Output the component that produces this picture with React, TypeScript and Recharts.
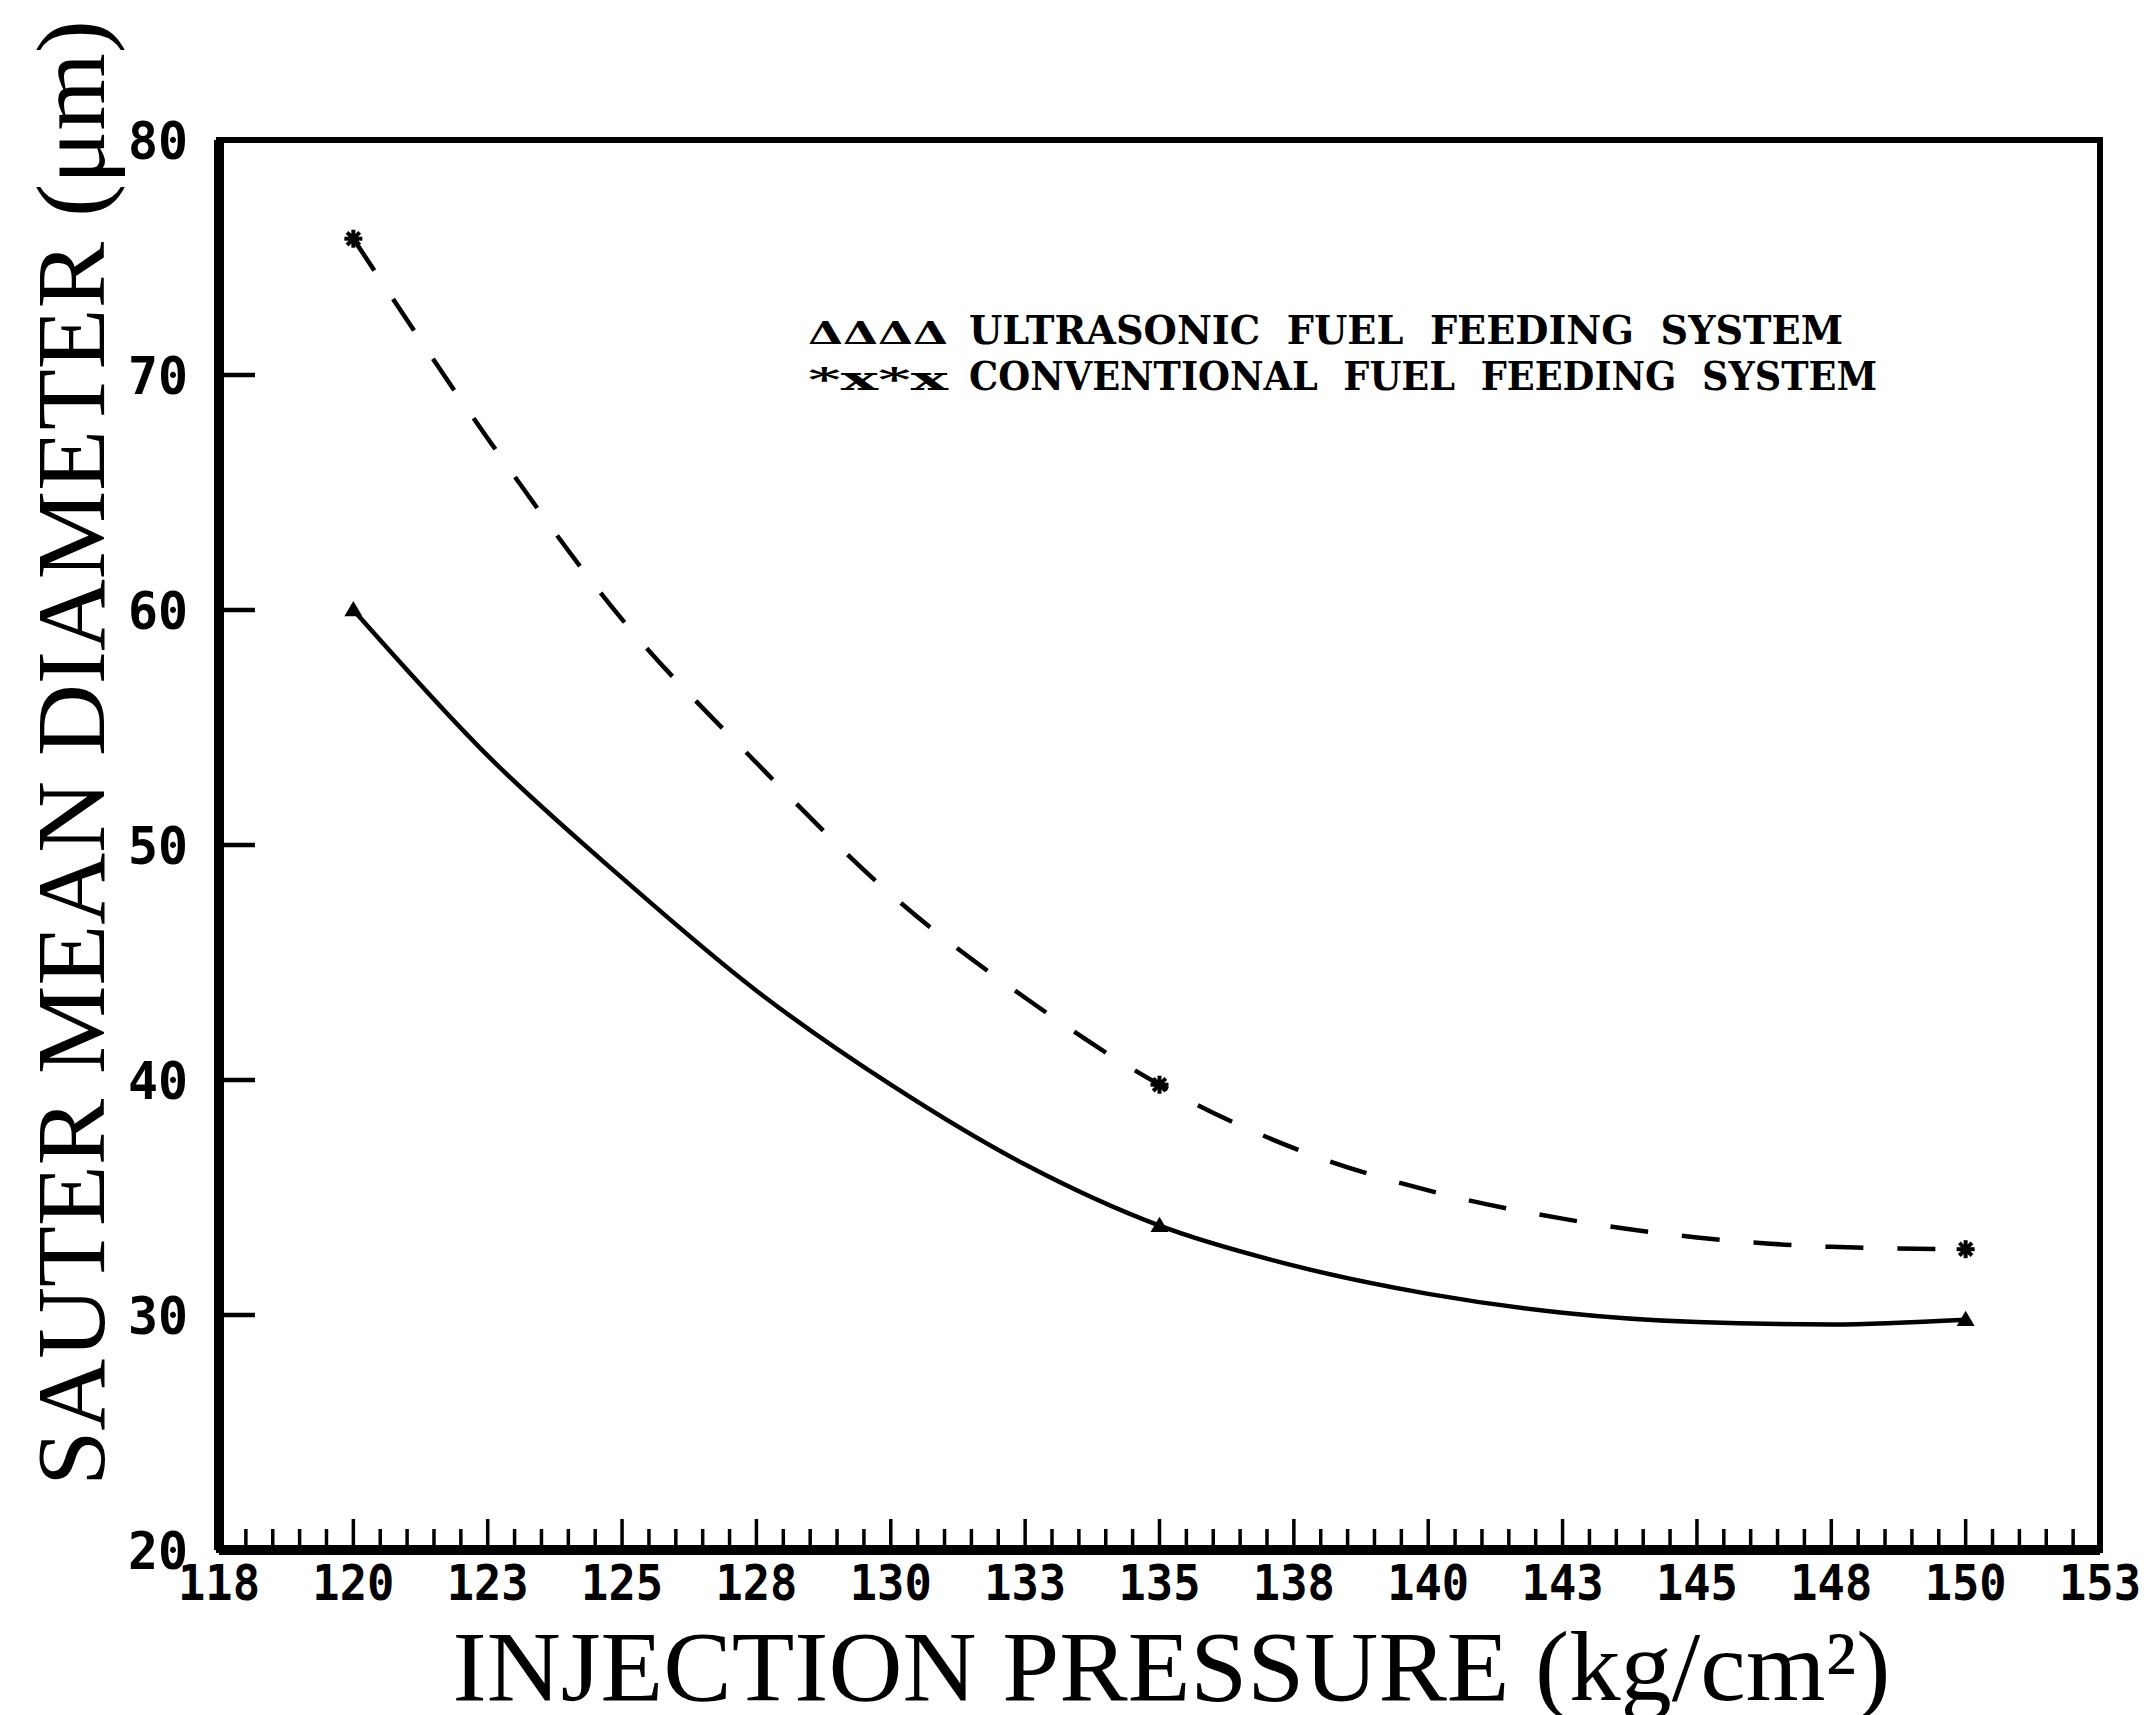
import React from 'react';
import { LineChart, Line, XAxis, YAxis, ReferenceArea, Legend } from 'recharts';

// Injection pressure (kg/cm^2) at which the curves were read
const pressure = [120, 122.5, 125, 127.5, 130, 132.5, 135, 137.5, 140, 142.5, 145, 147.5, 150];
// Sauter mean diameter (micrometre)
const ultrasonic = [60.0, 53.8, 48.6, 43.8, 39.8, 36.4, 33.8, 32.1, 30.9, 30.1, 29.7, 29.6, 29.8];
const conventional = [75.8, 67.3, 59.6, 53.5, 47.9, 43.5, 39.8, 37.1, 35.3, 34.1, 33.3, 32.9, 32.8];
// pressures where the original plot shows data markers
const markerPressures = [120, 135, 150];

const xMajorTicks = [117.5, 120, 122.5, 125, 127.5, 130, 132.5, 135, 137.5, 140, 142.5, 145, 147.5, 150, 152.5];
const xTickLabels = ['118', '120', '123', '125', '128', '130', '133', '135', '138', '140', '143', '145', '148', '150', '153'];
const yTicks = [20, 30, 40, 50, 60, 70, 80];
const yTickLabels = ['20', '30', '40', '50', '60', '70', '80'];

const seriesNames = ['ULTRASONIC FUEL FEEDING SYSTEM', 'CONVENTIONAL FUEL FEEDING SYSTEM'];
const seriesSymbols = ['\u0394\u0394\u0394\u0394', '*x*x'];
const xTitle = 'INJECTION PRESSURE (kg/cm\u00B2)';
const yTitle = 'SAUTER MEAN DIAMETER (\u03BCm)';

const data = pressure.map((p, i) => ({ p, ultra: ultrasonic[i], conv: conventional[i] }));

// all x ticks: majors plus minor ticks every 0.5
const xAllTicks: number[] = [];
for (let v = 117.5; v <= 152.5 + 1e-9; v += 0.5) xAllTicks.push(Math.round(v * 10) / 10);

const TICK_FONT = "'DejaVu Sans Mono', monospace";

const XTick = (props: any) => {
  const { x, y, payload } = props;
  const v = payload.value;
  const idx = xMajorTicks.indexOf(v);
  const isMajor = idx >= 0;
  const len = isMajor ? 31 : 21;
  const lab = isMajor ? xTickLabels[idx] : '';
  return (
    <g>
      <line x1={x} x2={x} y1={y} y2={y - len} stroke="#000" strokeWidth={3.5} />
      {isMajor && (
        <text
          x={x}
          y={y + 50}
          textAnchor="middle"
          fontFamily={TICK_FONT}
          fontWeight="bold"
          fontSize={50}
          textLength={82}
          lengthAdjust="spacingAndGlyphs"
          fill="#000"
        >
          {lab}
        </text>
      )}
    </g>
  );
};

const YTick = (props: any) => {
  const { x, y, payload } = props;
  const v = payload.value;
  const idx = yTicks.indexOf(v);
  const lab = yTickLabels[idx];
  const inner = v > 20 && v < 80;
  return (
    <g>
      {inner && <line x1={x} x2={x + 36} y1={y} y2={y} stroke="#000" strokeWidth={4.5} />}
      <text
        x={x - 31}
        y={y + 19}
        textAnchor="end"
        fontFamily={TICK_FONT}
        fontWeight="bold"
        fontSize={52}
        textLength={60}
        lengthAdjust="spacingAndGlyphs"
        fill="#000"
      >
        {lab}
      </text>
    </g>
  );
};

const makeDot = (kind: 'tri' | 'star') => (props: any) => {
  const { cx, cy, payload, index } = props;
  if (!markerPressures.includes(payload.p)) return <g key={`d${kind}${index}`} />;
  if (kind === 'tri') {
    const s = 9;
    return (
      <path
        key={`d${kind}${index}`}
        d={`M${cx},${cy - s} L${cx + s},${cy + s * 0.7} L${cx - s},${cy + s * 0.7} Z`}
        fill="#000"
      />
    );
  }
  const s = 9;
  return (
    <g key={`d${kind}${index}`} stroke="#000" strokeWidth={4}>
      <line x1={cx - s} y1={cy} x2={cx + s} y2={cy} />
      <line x1={cx} y1={cy - s} x2={cx} y2={cy + s} />
      <line x1={cx - s * 0.7} y1={cy - s * 0.7} x2={cx + s * 0.7} y2={cy + s * 0.7} />
      <line x1={cx - s * 0.7} y1={cy + s * 0.7} x2={cx + s * 0.7} y2={cy - s * 0.7} />
    </g>
  );
};

const LegendContent = () => (
  <svg width={1340} height={110} style={{ display: 'block' }}>
    {seriesNames.map((name, i) => (
      <g key={name}>
        <text
          x={8}
          y={44 + i * 46}
          fontFamily="'DejaVu Serif', serif"
          fontWeight="bold"
          fontSize={32}
          textLength={140}
          lengthAdjust="spacingAndGlyphs"
          fill="#000"
        >
          {seriesSymbols[i]}
        </text>
        <text
          x={169}
          y={44 + i * 46}
          fontFamily="'DejaVu Serif', serif"
          fontWeight="bold"
          fontSize={39}
          textLength={i === 0 ? 874 : 908}
          lengthAdjust="spacingAndGlyphs"
          style={{ whiteSpace: 'pre' }}
          fill="#000"
        >
          {name.replace(/ /g, '  ')}
        </text>
      </g>
    ))}
  </svg>
);

const XTitle = (props: any) => {
  const vb = props.viewBox || { x: 219, y: 1550, width: 1881 };
  return (
    <text
      x={vb.x + vb.width / 2 + 12}
      y={vb.y + 150}
      textAnchor="middle"
      fontFamily="'Liberation Serif', serif"
      fontSize={100}
      textLength={1438}
      lengthAdjust="spacingAndGlyphs"
      fill="#000"
    >
      {xTitle}
    </text>
  );
};

const YTitle = (props: any) => {
  const vb = props.viewBox || { x: 218, y: 140, width: 1, height: 1410 };
  const bx = vb.x + vb.width - 115;
  const by = vb.y + vb.height - 64;
  return (
    <text
      x={bx}
      y={by}
      transform={`rotate(-90 ${bx} ${by})`}
      textAnchor="start"
      fontFamily="'Liberation Serif', serif"
      fontSize={98}
      textLength={1466}
      lengthAdjust="spacingAndGlyphs"
      fill="#000"
    >
      {yTitle}
    </text>
  );
};

export default function App() {
  return (
    <div style={{ position: 'absolute', left: 0, top: 0, width: 2148, height: 1715, background: '#fff', overflow: 'hidden' }}>
      <LineChart
        width={2148}
        height={1715}
        data={data}
        margin={{ top: 140, right: 48, bottom: 164, left: 218 }}
      >
        <XAxis
          dataKey="p"
          type="number"
          domain={[117.5, 152.5]}
          ticks={xAllTicks}
          interval={0}
          tickSize={0}
          tickMargin={0}
          height={1}
          tickLine={false}
          tick={<XTick />}
          axisLine={{ stroke: '#000', strokeWidth: 10 }}
          label={{ content: <XTitle /> }}
        />
        <YAxis
          type="number"
          domain={[20, 80]}
          ticks={yTicks}
          interval={0}
          tickSize={0}
          tickMargin={0}
          width={1}
          tickLine={false}
          tick={<YTick />}
          axisLine={{ stroke: '#000', strokeWidth: 10 }}
          label={{ content: <YTitle /> }}
        />
        <ReferenceArea x1={117.5} x2={152.5} y1={20} y2={80} fill="none" stroke="#000" strokeWidth={6} />
        <Legend
          layout="horizontal"
          verticalAlign="middle"
          align="center"
          content={<LegendContent />}
          wrapperStyle={{ position: 'absolute', left: 800, top: 300, width: 1340, height: 110 }}
        />
        <Line
          type="monotone"
          dataKey="ultra"
          name={seriesNames[0]}
          stroke="#000"
          strokeWidth={4.5}
          dot={makeDot('tri')}
          activeDot={false}
          isAnimationActive={false}
        />
        <Line
          type="monotone"
          dataKey="conv"
          name={seriesNames[1]}
          stroke="#000"
          strokeWidth={4.5}
          strokeDasharray="38 34"
          dot={makeDot('star')}
          activeDot={false}
          isAnimationActive={false}
        />
      </LineChart>
    </div>
  );
}
